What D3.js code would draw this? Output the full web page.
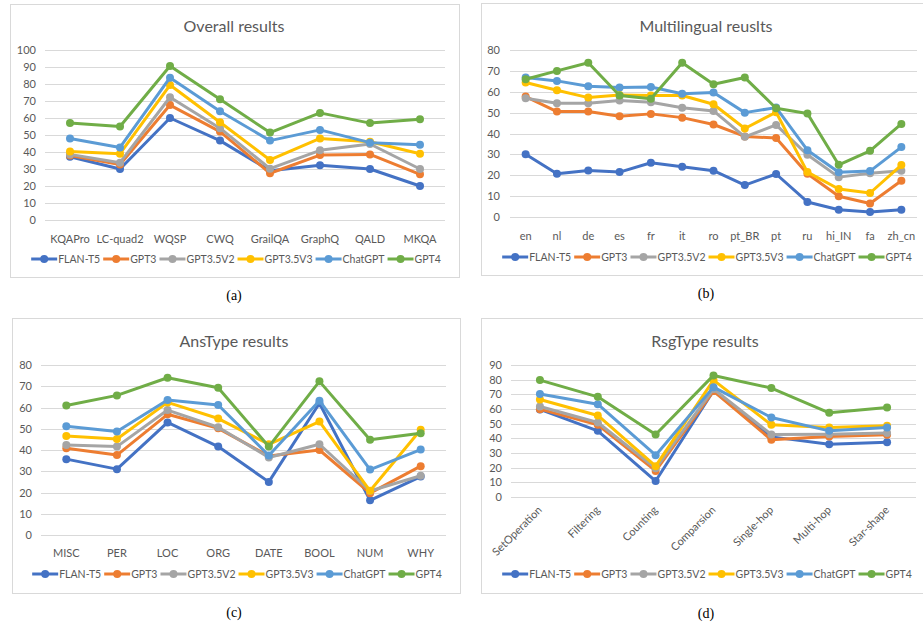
<!DOCTYPE html>
<html><head><meta charset="utf-8">
<script src="https://cdn.jsdelivr.net/npm/d3@7/dist/d3.min.js"></script>
<style>
html,body{margin:0;padding:0;background:#fff;}
svg{display:block;}
text{font-family:Lato,"Open Sans",sans-serif;}
</style></head><body>
<svg id="chart" width="923" height="627"></svg>
<script>
const seriesNames = ["FLAN-T5","GPT3","GPT3.5V2","GPT3.5V3","ChatGPT","GPT4"];
const seriesColors = ["#4472C4","#ED7D31","#A5A5A5","#FFC000","#5B9BD5","#70AD47"];

// (a) Overall results
const overallCats = ["KQAPro","LC-quad2","WQSP","CWQ","GrailQA","GraphQ","QALD","MKQA"];
const overallFLAN = [37.2,30.0,60.0,46.7,29.0,32.2,30.0,20.0];
const overallGPT3 = [38.0,32.7,67.6,52.0,27.5,38.2,38.6,26.9];
const overallV2   = [38.6,33.7,72.2,54.0,30.2,41.0,44.7,30.0];
const overallV3   = [40.3,39.0,79.4,57.5,35.3,48.0,46.0,39.0];
const overallChat = [48.0,42.7,83.7,64.0,46.7,53.0,45.5,44.3];
const overallGPT4 = [57.0,55.0,90.6,71.0,51.4,63.0,57.0,59.2];
const overallTicks = [0,10,20,30,40,50,60,70,80,90,100];

// (b) Multilingual results
const multiCats = ["en","nl","de","es","fr","it","ro","pt_BR","pt","ru","hi_IN","fa","zh_cn"];
const multiFLAN = [30.1,20.7,22.3,21.5,26.0,24.1,22.2,15.3,20.6,7.2,3.5,2.4,3.5];
const multiGPT3 = [57.7,50.5,50.5,48.3,49.4,47.6,44.3,38.6,37.8,20.7,9.9,6.5,17.4];
const multiV2   = [56.9,54.5,54.5,55.8,55.0,52.3,50.8,38.4,44.1,29.8,19.1,21.0,22.2];
const multiV3   = [64.4,60.7,57.2,58.5,58.2,58.2,54.0,42.4,50.2,21.5,13.4,11.5,24.9];
const multiChat = [66.8,65.2,62.6,62.0,62.3,59.0,59.6,50.0,52.4,32.0,21.4,22.0,33.5];
const multiGPT4 = [66.0,70.0,73.9,58.2,56.6,73.9,63.6,66.8,52.1,49.6,25.0,31.7,44.6];
const multiTicks = [0,10,20,30,40,50,60,70,80];

// (c) AnsType results
const ansCats = ["MISC","PER","LOC","ORG","DATE","BOOL","NUM","WHY"];
const ansFLAN = [35.7,31.0,53.0,41.6,25.0,62.0,16.3,27.5];
const ansGPT3 = [40.8,37.6,56.8,50.2,37.2,40.0,19.7,32.4];
const ansV2   = [42.4,41.6,58.8,50.7,36.5,42.7,20.7,27.9];
const ansV3   = [46.6,45.2,62.4,54.8,42.7,53.4,20.8,49.5];
const ansChat = [51.2,48.7,63.5,61.2,37.4,63.2,30.8,40.2];
const ansGPT4 = [60.9,65.7,74.0,69.3,41.6,72.3,44.8,47.9];
const ansTicks = [0,10,20,30,40,50,60,70,80];

// (d) RsgType results
const rsgCats = ["SetOperation","Filtering","Counting","Comparsion","Single-hop","Multi-hop","Star-shape"];
const rsgFLAN = [59.7,45.1,10.9,72.4,41.0,36.0,37.4];
const rsgGPT3 = [59.9,49.2,17.8,72.2,39.0,41.2,42.4];
const rsgV2   = [61.7,50.8,19.6,73.6,42.6,42.8,43.7];
const rsgV3   = [66.5,55.6,21.0,79.7,49.2,47.4,48.5];
const rsgChat = [70.2,63.3,28.5,74.9,54.2,45.1,47.4];
const rsgGPT4 = [79.7,68.3,42.6,82.9,74.3,57.4,61.0];
const rsgTicks = [0,10,20,30,40,50,60,70,80,90];

const svg = d3.select("#chart");
const txtCol = "#595959";
const gridCol = "#D9D9D9";

function panel(cfg){
  const g = svg.append("g");
  g.append("rect").attr("x",cfg.frame[0]+0.5).attr("y",cfg.frame[1]+0.5)
   .attr("width",cfg.frame[2]-cfg.frame[0]).attr("height",cfg.frame[3]-cfg.frame[1])
   .attr("fill","#fff").attr("stroke","#D9D9D9").attr("stroke-width",1);
  const x = d3.scaleBand().domain(cfg.cats).range(cfg.xr);
  const y = d3.scaleLinear().domain([0,d3.max(cfg.ticks)]).range(cfg.yr);
  g.append("g").selectAll("line").data(cfg.ticks).join("line")
   .attr("x1",cfg.xr[0]).attr("x2",cfg.xr[1])
   .attr("y1",d=>Math.round(y(d))+0.5).attr("y2",d=>Math.round(y(d))+0.5)
   .attr("stroke",gridCol).attr("stroke-width",1);
  const ya = d3.axisLeft(y).tickValues(cfg.ticks).tickSize(0).tickPadding(0);
  const yg = g.append("g").attr("transform",`translate(${cfg.ylx},0)`).call(ya);
  yg.select(".domain").remove();
  yg.selectAll("text").attr("fill",txtCol).style("font-size","11px").style("font-family","Lato");
  const xa = d3.axisBottom(x).tickSize(0).tickPadding(0);
  const xg = g.append("g").attr("transform",`translate(0,${cfg.xly})`).call(xa);
  xg.select(".domain").remove();
  xg.selectAll("text").attr("fill",txtCol).style("font-size","11px").style("font-family","Lato");
  if(cfg.rotate){
    xg.selectAll("text").attr("dy","0.35em").attr("y",0)
      .attr("text-anchor","end").attr("transform","rotate(-45)");
  }
  g.append("text").attr("x",cfg.titleX).attr("y",cfg.titleY).attr("text-anchor","middle")
   .attr("dominant-baseline","central").attr("fill",txtCol)
   .style("font-size","16px").text(cfg.title);
  const line = d3.line().x((d,i)=>x(cfg.cats[i])+x.bandwidth()/2).y(d=>y(d));
  cfg.series.forEach((vals,si)=>{
    g.append("path").datum(vals).attr("d",line).attr("fill","none")
     .attr("stroke",seriesColors[si]).attr("stroke-width",3).attr("stroke-linejoin","round");
    g.append("g").selectAll("circle").data(vals).join("circle")
     .attr("cx",(d,i)=>x(cfg.cats[i])+x.bandwidth()/2).attr("cy",d=>y(d)).attr("r",4)
     .attr("fill",seriesColors[si]);
  });
  const lg = g.append("g");
  let cx = 0;
  seriesNames.forEach((n,si)=>{
    const it = lg.append("g").attr("transform",`translate(${cx},0)`);
    it.append("line").attr("x1",0).attr("x2",26).attr("y1",0).attr("y2",0)
      .attr("stroke",seriesColors[si]).attr("stroke-width",3);
    it.append("circle").attr("cx",13).attr("cy",0).attr("r",4).attr("fill",seriesColors[si]);
    const t = it.append("text").attr("x",27).attr("y",0).attr("dominant-baseline","central")
      .attr("fill",txtCol).style("font-size","10.5px").text(n);
    cx += 27 + t.node().getComputedTextLength() + 3;
  });
  cx -= 3;
  lg.attr("transform",`translate(${cfg.legX - cx/2},${cfg.legY})`);
  svg.append("text").attr("x",cfg.capX).attr("y",cfg.capY).attr("text-anchor","middle")
   .attr("dominant-baseline","central").style("font-family","'Liberation Serif','DejaVu Serif',serif")
   .style("font-size","14px").attr("fill","#000").text(cfg.caption);
}

panel({frame:[10,4,459,277], cats:overallCats, ticks:overallTicks, xr:[45,445], yr:[220,50],
  ylx:36, xly:235, titleX:234, titleY:25, title:"Overall results", legX:236, legY:259,
  capX:234, capY:295, caption:"(a)",
  series:[overallFLAN,overallGPT3,overallV2,overallV3,overallChat,overallGPT4]});
panel({frame:[481,3,931,275], cats:multiCats, ticks:multiTicks, xr:[510,917], yr:[217,50],
  ylx:500, xly:232, titleX:706, titleY:25, title:"Multilingual reuslts", legX:707, legY:257,
  capX:706, capY:293, caption:"(b)",
  series:[multiFLAN,multiGPT3,multiV2,multiV3,multiChat,multiGPT4]});
panel({frame:[12,318,460,593], cats:ansCats, ticks:ansTicks, xr:[41,446], yr:[535,365],
  ylx:32, xly:549, titleX:234, titleY:340, title:"AnsType results", legX:237, legY:574,
  capX:234, capY:612, caption:"(c)",
  series:[ansFLAN,ansGPT3,ansV2,ansV3,ansChat,ansGPT4]});
panel({frame:[481,318,931,593], cats:rsgCats, ticks:rsgTicks, xr:[511,916], yr:[497,365],
  ylx:502, xly:508, titleX:705, titleY:340, title:"RsgType results", legX:707, legY:574,
  capX:706, capY:613, caption:"(d)", rotate:true,
  series:[rsgFLAN,rsgGPT3,rsgV2,rsgV3,rsgChat,rsgGPT4]});
</script>
</body></html>
